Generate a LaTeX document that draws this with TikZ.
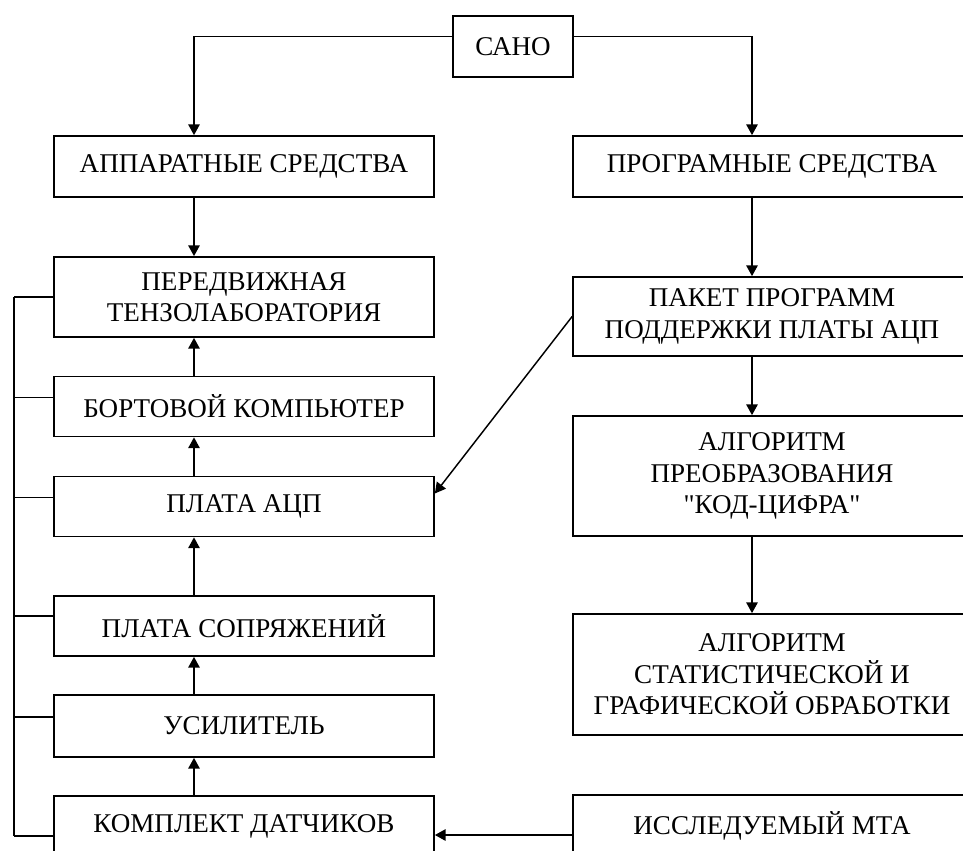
\documentclass[tikz,border=0pt]{standalone}
\usepackage{fontspec}
\setmainfont{Liberation Serif}
\usetikzlibrary{arrows.meta,calc}

\begin{document}
\begin{tikzpicture}[x=0.75pt,y=-0.75pt,>={Triangle[length=8pt,width=8.5pt]},
  blk/.style={draw,line width=1.3pt,align=center,inner sep=0pt,font=\fontsize{20.3}{23.6}\selectfont},
  hgt/.style={minimum height=#1*0.75pt},
  lft/.style={blk,minimum width=285pt},
  rgt/.style={blk,minimum width=298.5pt},
  lnk/.style={line width=1.1pt}]
  \useasboundingbox (0,0) rectangle (963,850);
  \fill[white] (0,0) rectangle (963,850);
  \clip (0,0) rectangle (963,850);

  \node[blk,minimum width=90pt,hgt=61] (sano) at (513,46.5) {САНО};

  \node[lft,hgt=61] (app) at (244,166.5) {АППАРАТНЫЕ СРЕДСТВА};
  \node[lft,hgt=80] (tenzo) at (244,297) {ПЕРЕДВИЖНАЯ\\ТЕНЗОЛАБОРАТОРИЯ};
  \node[lft,hgt=60] (bort) at (244,406.5) {БОРТОВОЙ КОМПЬЮТЕР};
  \node[lft,hgt=60] (adc) at (244,506.5) {ПЛАТА АЦП};
  \node[lft,hgt=60] (sopr) at (244,626) {ПЛАТА СОПРЯЖЕНИЙ};
  \node[lft,hgt=62] (usil) at (244,726) {УСИЛИТЕЛЬ};
  \node[lft,hgt=61] (dat) at (244,826.5) {КОМПЛЕКТ ДАТЧИКОВ};

  \node[rgt,hgt=61] (prog) at (772,166.5) {ПРОГРАМНЫЕ СРЕДСТВА};
  \node[rgt,hgt=79] (pack) at (772,316.5) {ПАКЕТ ПРОГРАММ\\ПОДДЕРЖКИ ПЛАТЫ АЦП};
  \node[rgt,hgt=120] (algk) at (772,476) {АЛГОРИТМ\\ПРЕОБРАЗОВАНИЯ\\\textquotedbl КОД-ЦИФРА\textquotedbl};
  \node[rgt,hgt=121] (algs) at (772,674.5) {АЛГОРИТМ\\СТАТИСТИЧЕСКОЙ И\\ГРАФИЧЕСКОЙ ОБРАБОТКИ};
  \node[rgt,hgt=61] (mta) at (772,825.5) {ИССЛЕДУЕМЫЙ МТА};

  \coordinate (lcol) at (194,0);
  \coordinate (rcol) at (752,0);
  \coordinate (bus) at (14,0);

  \draw[lnk,->] ($(sano.west)+(0,-10)$) -| (app.north -| lcol);
  \draw[lnk,->] ($(sano.east)+(0,-10)$) -| (prog.north -| rcol);
  \draw[lnk,->] (app.south -| lcol) -- (tenzo.north -| lcol);
  \foreach \a/\b in {bort/tenzo,adc/bort,sopr/adc,usil/sopr,dat/usil}
    \draw[lnk,->] (\a.north -| lcol) -- (\b.south -| lcol);
  \foreach \a/\b in {prog/pack,pack/algk,algk/algs}
    \draw[lnk,->] (\a.south -| rcol) -- (\b.north -| rcol);
  \draw[lnk,->] (pack.west) -- ($(adc.east)+(0,-13)$);
  \draw[lnk,->] ($(mta.west)+(0,9.5)$) -- ($(dat.east)+(0,8.5)$);

  \draw[lnk] (tenzo.west -| bus) -- ($(dat.west -| bus)+(0,9.5)$);
  \foreach \n/\d in {tenzo/0,bort/-9,adc/-9,sopr/-10,usil/-9,dat/9.5}
    \draw[lnk] ($(\n.west)+(0,\d)$) -- ($(\n.west -| bus)+(0,\d)$);
\end{tikzpicture}
\end{document}
